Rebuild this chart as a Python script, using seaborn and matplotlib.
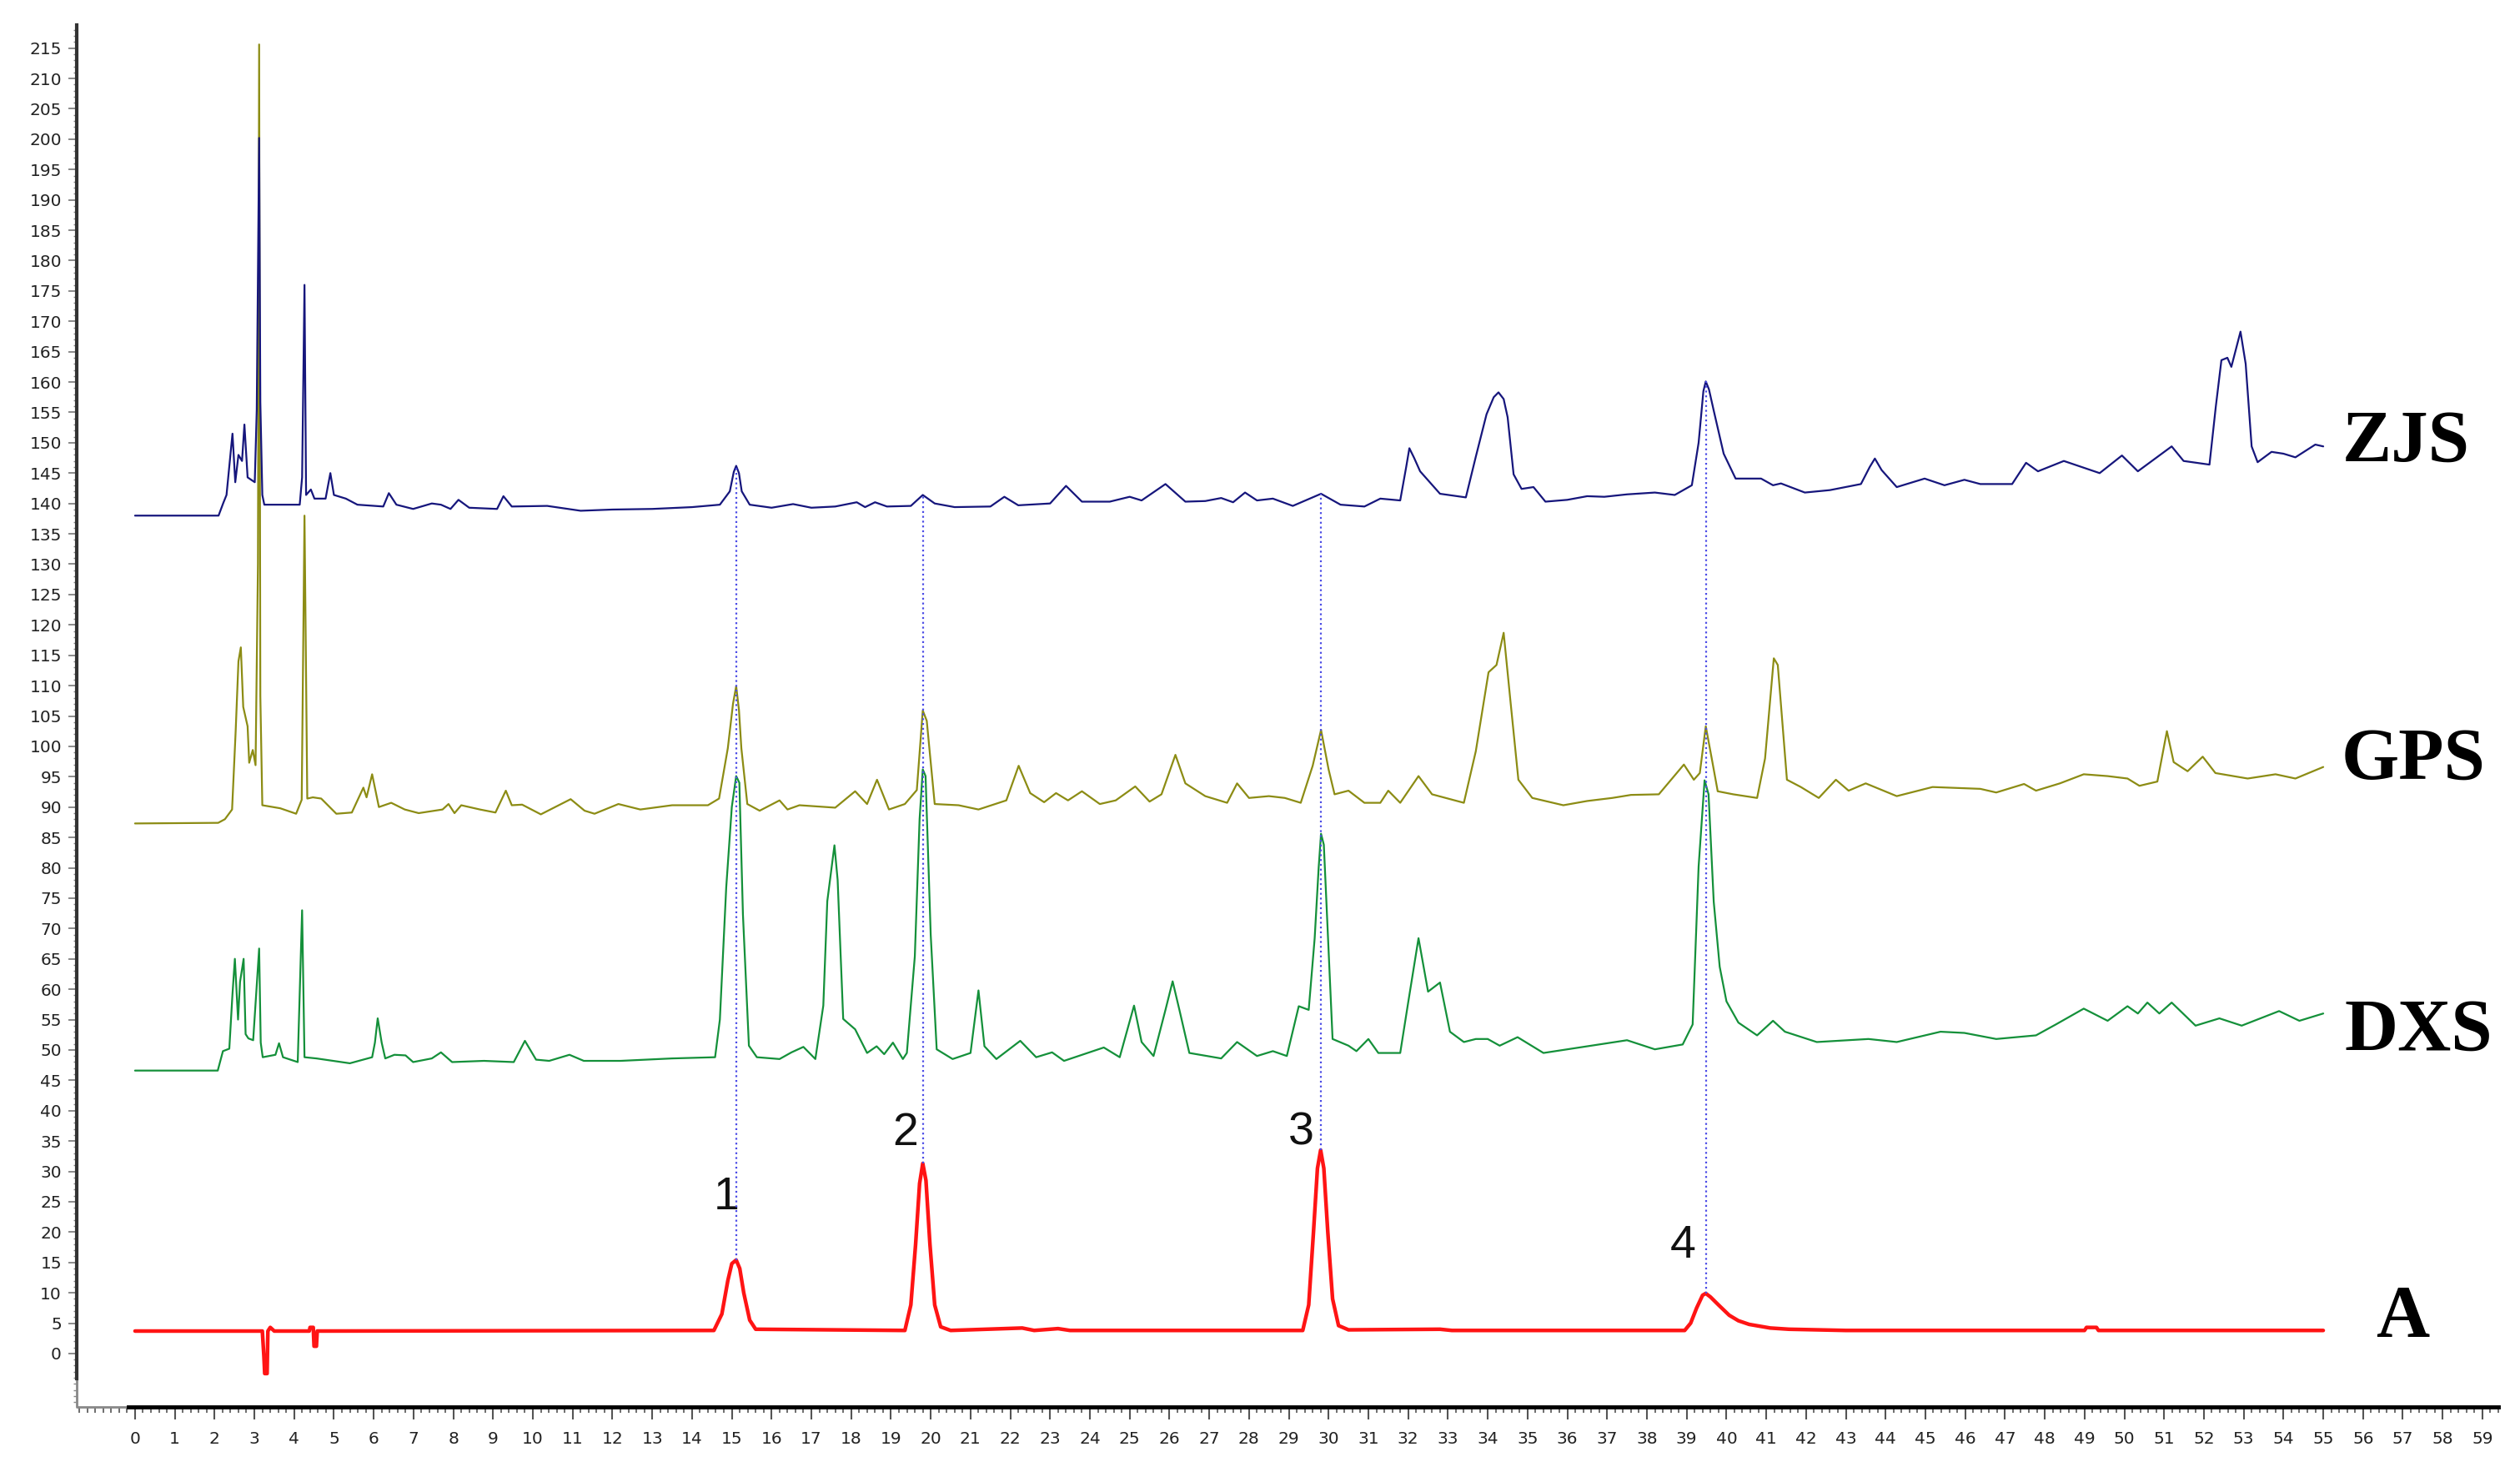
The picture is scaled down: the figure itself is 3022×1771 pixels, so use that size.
import matplotlib
matplotlib.use("Agg")
import matplotlib.pyplot as plt
import numpy as np
import pandas as pd
import seaborn as sns
from matplotlib.ticker import MultipleLocator

# ==========================================
# 1. CHROMATOGRAM DATA
# ==========================================
zjs_t = [0, 2.1, 2.22, 2.3, 2.45, 2.52, 2.6, 2.69, 2.75, 2.83, 3.01, 3.06, 3.12, 3.15, 3.2,
         3.25, 4.14, 4.2, 4.26, 4.3, 4.42, 4.51, 4.79, 4.91, 5.0, 5.3, 5.59, 6.24, 6.38, 6.57,
         6.99, 7.46, 7.69, 7.93, 8.13, 8.4, 9.1, 9.26, 9.47, 10.36, 11.2, 12.0, 13.0, 14.0,
         14.7, 14.95, 15.05, 15.11, 15.18, 15.25, 15.45, 16.0, 16.54, 17.0, 17.6, 18.14, 18.35,
         18.6, 18.9, 19.5, 19.8, 20.1, 20.6, 21.5, 21.85, 22.2, 23.0, 23.4, 23.8, 24.5, 25.0,
         25.3, 25.9, 26.4, 26.9, 27.3, 27.6, 27.9, 28.2, 28.6, 29.1, 29.81, 30.3, 30.9, 31.3,
         31.8, 31.95, 32.03, 32.15, 32.3, 32.8, 33.45, 33.7, 33.97, 34.15, 34.27, 34.4, 34.5,
         34.65, 34.85, 35.15, 35.45, 36.0, 36.5, 36.93, 37.5, 38.2, 38.7, 39.13, 39.3, 39.42,
         39.48, 39.56, 39.68, 39.93, 40.23, 40.87, 41.17, 41.37, 41.97, 42.6, 43.38, 43.6, 43.73,
         43.9, 44.28, 44.98, 45.48, 45.98, 46.38, 47.18, 47.53, 47.83, 48.48, 49.38, 49.94,
         50.34, 51.19, 51.49, 52.14, 52.3, 52.44, 52.59, 52.69, 52.92, 53.05, 53.2, 53.35, 53.7,
         54.0, 54.3, 54.8, 55.0]
zjs_v = [138.0, 138.0, 140.1, 141.4, 151.5, 143.5, 148, 147, 153, 144.3, 143.5, 155.4, 200.2,
         156.7, 141.4, 139.8, 139.8, 144.3, 176, 141.4, 142.3, 140.8, 140.8, 145, 141.4, 140.8,
         139.8, 139.5, 141.7, 139.8, 139.1, 140, 139.8, 139.1, 140.6, 139.3, 139.1, 141.2, 139.5,
         139.6, 138.8, 139.0, 139.1, 139.4, 139.8, 142, 145.2, 146.2, 145, 142, 139.8, 139.3,
         139.9, 139.3, 139.5, 140.2, 139.4, 140.2, 139.5, 139.6, 141.4, 140, 139.4, 139.5, 141.1,
         139.7, 140.0, 142.9, 140.3, 140.3, 141.1, 140.5, 143.2, 140.3, 140.4, 140.9, 140.2,
         141.8, 140.5, 140.8, 139.6, 141.6, 139.8, 139.5, 140.8, 140.5, 146, 149.1, 147.5,
         145.3, 141.6, 141, 147.7, 154.7, 157.5, 158.3, 157.2, 154.2, 144.8, 142.4, 142.7,
         140.3, 140.6, 141.2, 141.1, 141.5, 141.8, 141.4, 143.0, 150, 158.5, 160.1, 158.8,
         155.3, 148.2, 144.1, 144.1, 143, 143.3, 141.8, 142.2, 143.2, 146, 147.4, 145.5, 142.7,
         144.1, 143, 143.9, 143.2, 143.2, 146.7, 145.3, 147, 145, 147.9, 145.3, 149.4, 147,
         146.4, 156, 163.6, 164, 162.5, 168.3, 163, 149.4, 146.8, 148.5, 148.2, 147.6, 149.7,
         149.4]

gps_t = [0, 2.09, 2.26, 2.44, 2.53, 2.6, 2.66, 2.72, 2.83, 2.87, 2.96, 3.03, 3.09, 3.12, 3.15,
         3.2, 3.65, 4.05, 4.19, 4.26, 4.33, 4.47, 4.68, 5.06, 5.45, 5.74, 5.82, 5.96, 6.13, 6.44,
         6.78, 7.13, 7.73, 7.88, 8.03, 8.2, 8.67, 9.06, 9.32, 9.47, 9.73, 10.2, 10.95, 11.3,
         11.55, 12.15, 12.7, 13.5, 14.4, 14.68, 14.9, 15.03, 15.11, 15.18, 15.24, 15.39, 15.7,
         16.2, 16.4, 16.7, 17.6, 18.1, 18.4, 18.65, 18.95, 19.35, 19.65, 19.8, 19.9, 20.1, 20.7,
         21.2, 21.9, 22.21, 22.5, 22.85, 23.15, 23.45, 23.8, 24.25, 24.65, 25.14, 25.5, 25.8,
         26.15, 26.4, 26.9, 27.45, 27.7, 28.0, 28.5, 28.9, 29.3, 29.6, 29.81, 30.0, 30.15, 30.5,
         30.9, 31.3, 31.5, 31.8, 32.26, 32.6, 33.4, 33.7, 34.02, 34.22, 34.4, 34.57, 34.77,
         35.12, 35.9, 36.5, 37.13, 37.6, 38.3, 38.93, 39.18, 39.33, 39.48, 39.63, 39.78, 40.17,
         40.77, 40.97, 41.19, 41.29, 41.52, 41.87, 42.32, 42.75, 43.07, 43.5, 44.28, 45.18,
         46.38, 46.78, 47.48, 47.78, 48.38, 48.98, 49.58, 50.08, 50.38, 50.83, 51.07, 51.24,
         51.59, 51.97, 52.29, 53.1, 53.8, 54.3, 55.0]
gps_v = [87.3, 87.4, 88.0, 89.6, 102.5, 114, 116.3, 106.5, 103.3, 97.3, 99.4, 96.9, 130, 215.6,
         108.3, 90.3, 89.8, 88.9, 91.2, 138, 91.4, 91.6, 91.4, 88.9, 89.1, 93.2, 91.6, 95.4, 90,
         90.7, 89.6, 89, 89.6, 90.5, 89, 90.3, 89.6, 89.1, 92.7, 90.3, 90.4, 88.8, 91.3, 89.4,
         88.9, 90.5, 89.6, 90.3, 90.3, 91.4, 99.7, 107, 109.9, 106, 99.7, 90.5, 89.4, 91.1, 89.6,
         90.3, 89.9, 92.6, 90.5, 94.5, 89.6, 90.5, 92.8, 105.9, 104.2, 90.5, 90.3, 89.6, 91.1,
         96.8, 92.3, 90.8, 92.3, 91.1, 92.6, 90.5, 91.1, 93.4, 90.9, 92.1, 98.6, 93.9, 91.8,
         90.7, 93.9, 91.5, 91.8, 91.5, 90.7, 96.8, 102.7, 96.2, 92.1, 92.7, 90.7, 90.7, 92.7,
         90.7, 95.1, 92.1, 90.7, 99.2, 112.2, 113.4, 118.7, 107.5, 94.5, 91.5, 90.3, 91.0, 91.5,
         92.0, 92.1, 97, 94.5, 95.6, 103.3, 98, 92.6, 92.1, 91.5, 98, 114.5, 113.4, 94.5, 93.3,
         91.5, 94.5, 92.7, 93.9, 91.8, 93.3, 93, 92.4, 93.8, 92.7, 93.9, 95.4, 95.1, 94.7, 93.5,
         94.2, 102.5, 97.4, 95.9, 98.3, 95.6, 94.7, 95.4, 94.7, 96.6]

dxs_t = [0, 2.08, 2.21, 2.37, 2.45, 2.51, 2.59, 2.64, 2.73, 2.78, 2.85, 2.97, 3.04, 3.12, 3.16,
         3.21, 3.53, 3.62, 3.72, 4.09, 4.2, 4.26, 4.56, 5.4, 5.96, 6.03, 6.1, 6.2, 6.29, 6.52,
         6.8, 6.99, 7.46, 7.69, 7.97, 8.77, 9.52, 9.8, 10.08, 10.41, 10.92, 11.28, 12.2, 13.5,
         14.58, 14.7, 14.86, 15.0, 15.11, 15.19, 15.28, 15.43, 15.63, 16.2, 16.5, 16.8, 17.1,
         17.3, 17.4, 17.58, 17.66, 17.8, 18.1, 18.4, 18.64, 18.83, 19.05, 19.3, 19.4, 19.6,
         19.72, 19.8, 19.87, 20.0, 20.15, 20.55, 21.0, 21.2, 21.35, 21.65, 22.25, 22.65, 23.05,
         23.35, 24.35, 24.75, 25.11, 25.3, 25.6, 25.9, 26.08, 26.25, 26.5, 27.3, 27.7, 28.2,
         28.6, 28.95, 29.25, 29.5, 29.65, 29.75, 29.81, 29.88, 30.01, 30.1, 30.5, 30.7, 31.0,
         31.25, 31.8, 32.0, 32.26, 32.5, 32.8, 33.05, 33.4, 33.7, 34.0, 34.3, 34.75, 35.4,
         36.3, 37.5, 38.2, 38.9, 39.15, 39.3, 39.45, 39.55, 39.68, 39.83, 40.0, 40.3, 40.77,
         41.17, 41.47, 42.27, 43.57, 44.28, 45.38, 45.98, 46.78, 47.78, 48.28, 48.98, 49.58,
         50.08, 50.34, 50.58, 50.88, 51.19, 51.79, 52.39, 52.95, 53.89, 54.4, 55.0]
dxs_v = [46.6, 46.6, 49.8, 50.2, 59.2, 65, 55, 61.2, 65, 52.6, 51.9, 51.6, 58.6, 66.7, 51.2,
         48.8, 49.2, 51.1, 48.8, 48, 73, 48.8, 48.6, 47.8, 48.8, 51.2, 55.2, 51.2, 48.6, 49.2,
         49.1, 48, 48.6, 49.6, 48, 48.2, 48, 51.5, 48.4, 48.2, 49.2, 48.2, 48.2, 48.6, 48.8, 55,
         76.8, 90, 95.1, 94, 72.3, 50.7, 48.8, 48.5, 49.6, 50.5, 48.5, 57.3, 74.5, 83.7, 78,
         55.1, 53.4, 49.5, 50.6, 49.3, 51.2, 48.5, 49.5, 65.4, 88, 96.2, 95.1, 68.9, 50.1, 48.5,
         49.5, 59.8, 50.6, 48.5, 51.5, 48.8, 49.6, 48.2, 50.4, 48.8, 57.3, 51.3, 49, 56.6, 61.3,
         56.6, 49.5, 48.6, 51.3, 49, 49.8, 49, 57.2, 56.6, 68.4, 80, 85.6, 83.8, 64.8, 51.8,
         50.7, 49.8, 51.8, 49.5, 49.5, 57.8, 68.4, 59.6, 61.1, 53, 51.3, 51.8, 51.8, 50.7, 52.1,
         49.5, 50.4, 51.6, 50.1, 50.9, 54.2, 80.2, 94.4, 92.1, 74.4, 63.7, 58, 54.5, 52.4, 54.8,
         53, 51.3, 51.8, 51.3, 53, 52.8, 51.8, 52.4, 54.2, 56.8, 54.8, 57.2, 56, 57.8, 56, 57.8,
         54, 55.2, 54, 56.4, 54.8, 56]

a_t = [0, 3.2, 3.24, 3.26, 3.32, 3.34, 3.4, 3.5, 4.38, 4.4, 4.48, 4.5, 4.56, 4.58, 14.55,
       14.75, 14.9, 15.0, 15.11, 15.2, 15.3, 15.45, 15.6, 19.35, 19.5, 19.62, 19.72, 19.8,
       19.88, 19.98, 20.1, 20.25, 20.5, 22.3, 22.6, 23.2, 23.5, 29.35, 29.5, 29.62, 29.72,
       29.8, 29.88, 29.98, 30.1, 30.25, 30.5, 32.8, 33.1, 38.95, 39.1, 39.25, 39.4, 39.48,
       39.6, 39.8, 40.07, 40.3, 40.57, 41.1, 41.57, 43.0, 49.0, 49.05, 49.3, 49.35, 55.0]
a_v = [3.7, 3.7, -0.5, -3.3, -3.3, 3.7, 4.3, 3.7, 3.7, 4.3, 4.3, 1.2, 1.2, 3.7, 3.8, 6.5, 12,
       14.8, 15.4, 14, 10, 5.5, 4.0, 3.8, 8, 18, 28, 31.3, 28.5, 18, 8, 4.4, 3.8, 4.2, 3.8,
       4.1, 3.8, 3.8, 8, 20, 30.5, 33.5, 30.5, 20, 9, 4.6, 3.9, 4.0, 3.8, 3.8, 5, 7.5, 9.6,
       9.9, 9.3, 8.0, 6.3, 5.4, 4.8, 4.2, 4.0, 3.8, 3.8, 4.3, 4.3, 3.8, 3.8]

# Marker peaks shared by the samples and the reference (A)
peak_labels = ["1", "2", "3", "4"]
peak_t = [15.11, 19.8, 29.81, 39.48]
peak_low = [15.4, 31.3, 33.5, 9.9]
peak_high = [146.2, 141.4, 141.6, 160.1]
label_t = [14.86, 19.35, 29.3, 38.9]
label_v = [25.7, 36.3, 36.3, 17.7]

trace_names = ["A", "DXS", "GPS", "ZJS"]
trace_label_t = [57.0, 57.4, 57.27, 57.07]
trace_label_v = [5.8, 53.0, 97.7, 149.9]

# ==========================================
# 2. STYLE
# ==========================================
sns.set_theme(style="white")
plt.rcParams["font.family"] = ["DejaVu Sans"]

traces = {
    "A": (a_t, a_v, "#ff1414", 3.2),
    "DXS": (dxs_t, dxs_v, "#14903a", 1.6),
    "GPS": (gps_t, gps_v, "#8c8c14", 1.6),
    "ZJS": (zjs_t, zjs_v, "#16167c", 1.6),
}

fig = plt.figure(figsize=(30.22, 17.71), dpi=100)
ax = fig.add_axes([92 / 3022, 84 / 1771, 2904 / 3022, 1657 / 1771])

for z, name in enumerate(trace_names):
    t, v, color, lw = traces[name]
    df = pd.DataFrame({"Time": t, "Signal": v})
    sns.lineplot(data=df, x="Time", y="Signal", ax=ax, color=color, linewidth=lw,
                 estimator=None, sort=False, zorder=2 + z)

# dotted guide lines through the matching peaks
ax.vlines(peak_t, peak_low, peak_high, colors="#4b4be6", linestyles=(0, (1, 1.6)),
          linewidth=1.6, zorder=10)

for lab, x, y in zip(peak_labels, label_t, label_v):
    ax.text(x, y, lab, fontsize=40, ha="center", va="center", color="#111111",
            family=["Liberation Sans", "DejaVu Sans"])

for name, x, y in zip(trace_names, trace_label_t, trace_label_v):
    ax.text(x, y, name, fontsize=64, fontweight="bold", ha="center", va="center",
            family=["Liberation Serif", "DejaVu Serif"], color="black")

# ==========================================
# 3. AXES
# ==========================================
ax.set_xlim(-1.465, 59.4)
ax.set_ylim(-8.8, 218.8)
ax.set_xlabel("")
ax.set_ylabel("")

ax.set_xticks(np.arange(0, 60, 1))
ax.set_xticklabels([str(i) for i in range(60)])
ax.xaxis.set_minor_locator(MultipleLocator(0.2))
ax.set_yticks(np.arange(0, 216, 5))
ax.yaxis.set_minor_locator(MultipleLocator(1))

ax.tick_params(axis="x", which="major", direction="out", length=11, width=1.5,
               colors="#555555", labelcolor="#222222", labelsize=14.5, pad=10, bottom=True)
ax.tick_params(axis="x", which="minor", direction="out", length=5, width=1.2,
               colors="#555555", bottom=True)
ax.tick_params(axis="y", which="major", direction="out", length=7, width=1.2,
               colors="#777777", labelcolor="#222222", labelsize=14.5, pad=6, left=True)
ax.tick_params(axis="y", which="minor", direction="out", length=3, width=1.0,
               colors="#888888", left=True)

for side in ["top", "right"]:
    ax.spines[side].set_visible(False)
ax.spines["left"].set_color("#333333")
ax.spines["left"].set_linewidth(3)
ax.spines["left"].set_bounds(-4.15, 218.8)
ax.spines["bottom"].set_color("black")
ax.spines["bottom"].set_linewidth(3.5)
ax.spines["bottom"].set_bounds(-0.17, 59.4)

# grey corner joining the two axis lines
ax.plot([-1.465, -1.465, -0.17], [-4.15, -8.8, -8.8], color="#888888", lw=2,
        clip_on=False, zorder=1)

fig.savefig("out.png", dpi=100)
plt.close(fig)
